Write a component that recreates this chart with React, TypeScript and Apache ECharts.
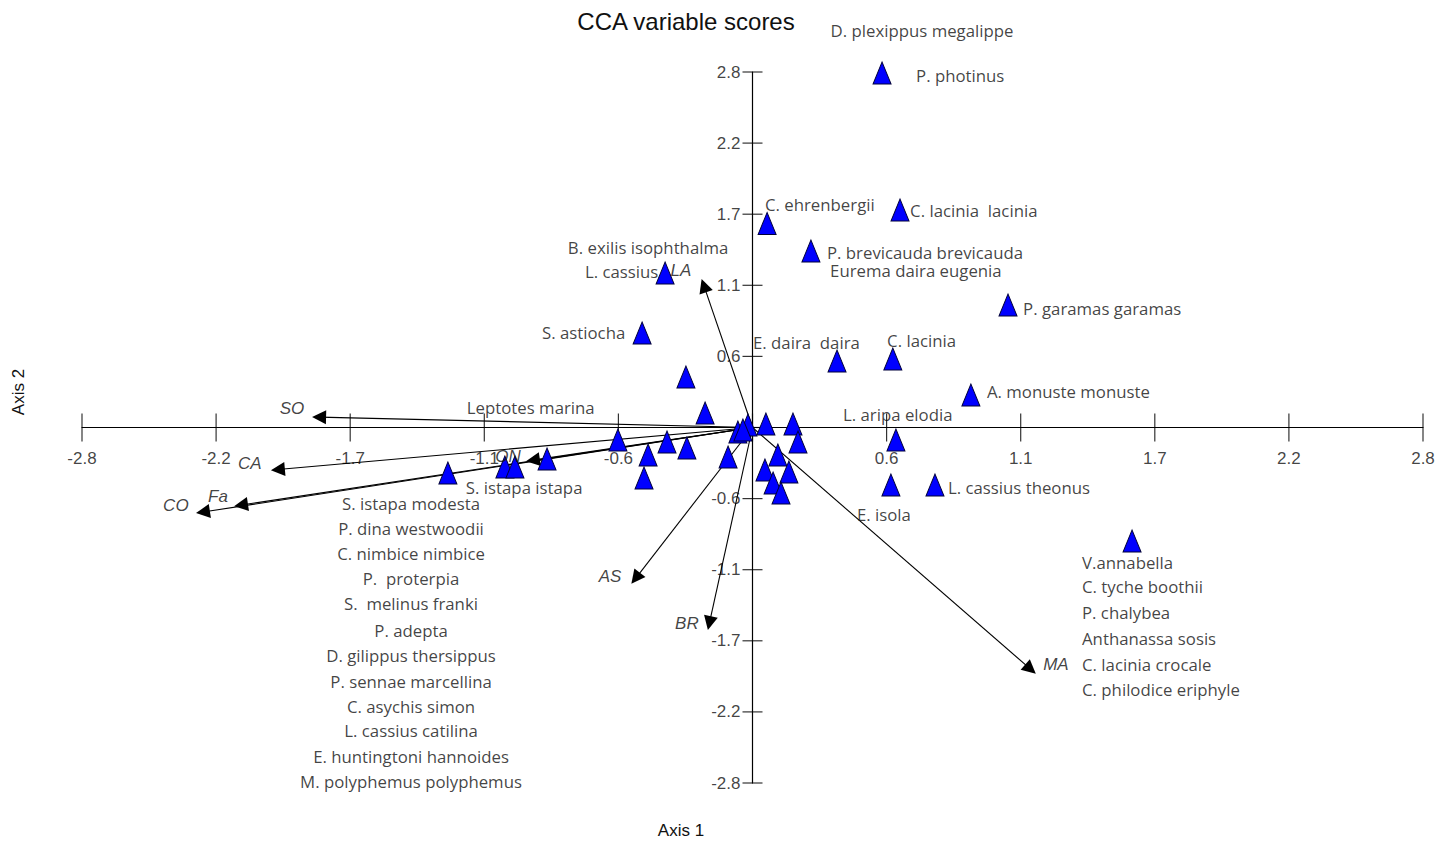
import React, { useEffect, useRef } from 'react';
import * as echarts from 'echarts';

// ---- Axis ----
const AXIS_MIN = -2.8;
const AXIS_MAX = 2.8;
const AXIS_INTERVAL = 0.56;
const TICK_VALUES = [-2.8, -2.24, -1.68, -1.12, -0.56, 0, 0.56, 1.12, 1.68, 2.24, 2.8];

// ---- Species (site) scores: blue triangles ----
const speciesScores: [number, number][] = [
  [0.541, 2.792], [0.616, 1.713], [0.061, 1.607], [0.244, 1.39], [-0.365, 1.217],
  [1.067, 0.965], [-0.461, 0.744], [0.353, 0.524], [0.586, 0.54], [0.912, 0.256],
  [-0.278, 0.398], [-0.198, 0.114], [0.599, -0.098], [0.578, -0.453], [0.762, -0.453],
  [1.585, -0.894], [-0.562, -0.098], [-0.357, -0.114], [-0.274, -0.161], [-0.436, -0.217],
  [-0.453, -0.398], [-0.858, -0.248], [-1.034, -0.311], [-0.992, -0.311], [-1.272, -0.358],
  [-0.102, -0.232], [-0.061, -0.035], [-0.019, 0.02], [0.056, 0.028], [0.169, 0.028],
  [0.19, -0.114], [0.106, -0.217], [0.052, -0.335], [0.152, -0.35], [0.086, -0.437],
  [0.119, -0.516], [-0.04, -0.02],
];

// ---- Species name annotations ----
const speciesNames = [
  'D. plexippus megalippe', 'P. photinus', 'C. ehrenbergii', 'C. lacinia  lacinia',
  'B. exilis isophthalma', 'P. brevicauda brevicauda', 'Eurema daira eugenia', 'L. cassius',
  'P. garamas garamas', 'S. astiocha', 'E. daira  daira', 'C. lacinia', 'A. monuste monuste',
  'Leptotes marina', 'L. aripa elodia', 'S. istapa istapa', 'L. cassius theonus', 'E. isola',
];
const speciesNamePos: [number, number][] = [
  [0.708, 3.123], [0.683, 2.769], [0.052, 1.76], [0.658, 1.713],
  [-0.436, 1.414], [0.311, 1.382], [0.324, 1.233], [-0.70, 1.225],
  [1.13, 0.941], [-0.879, 0.752], [0.002, 0.673], [0.562, 0.689], [0.979, 0.28],
  [-1.193, 0.154], [0.378, 0.106], [-1.197, -0.469], [0.816, -0.469], [0.436, -0.689],
];
// 'c' = centred on the point, 'l' = text starts at the point
const speciesNameAnchor = ['c', 'l', 'l', 'l', 'c', 'l', 'l', 'l', 'l', 'l', 'l', 'l', 'l', 'l', 'l', 'l', 'l', 'l'];

const leftListNames = [
  'S. istapa modesta', 'P. dina westwoodii', 'C. nimbice nimbice', 'P.  proterpia',
  'S.  melinus franki', 'P. adepta', 'D. gilippus thersippus', 'P. sennae marcellina',
  'C. asychis simon', 'L. cassius catilina', 'E. huntingtoni hannoides', 'M. polyphemus polyphemus',
];
const leftListX = -1.426;
const leftListY = [-0.595, -0.792, -0.989, -1.186, -1.39, -1.595, -1.792, -1.997, -2.194, -2.39, -2.595, -2.792];

const rightListNames = [
  'V.annabella', 'C. tyche boothii', 'P. chalybea', 'Anthanassa sosis', 'C. lacinia crocale', 'C. philodice eriphyle',
];
const rightListX = 1.376;
const rightListY = [-1.06, -1.256, -1.461, -1.658, -1.863, -2.06];

// ---- Environmental variable vectors ----
const envNames = ['SO', 'CA', 'Fa', 'CO', 'ON', 'LA', 'AS', 'BR', 'MA'];
const envEnds: [number, number][] = [
  [-1.81, 0.082], [-1.982, -0.331], [-2.136, -0.611], [-2.295, -0.666], [-0.917, -0.257],
  [-0.203, 1.117], [-0.488, -1.188], [-0.18, -1.541], [1.161, -1.903],
];
const envLabelPos: [number, number][] = [
  [-1.923, 0.146], [-2.099, -0.287], [-2.232, -0.547], [-2.408, -0.618], [-1.021, -0.232],
  [-0.299, 1.233], [-0.595, -1.17], [-0.274, -1.54], [1.267, -1.87],
];

const TEXT_COLOR = '#111';
const SPECIES_FONT = { fontFamily: 'Open Sans', fontSize: 16.8, color: TEXT_COLOR };
const TICK_FONT = { fontFamily: 'Liberation Sans', fontSize: 17, color: TEXT_COLOR };

const tickFormatter = (v: number) => (Math.abs(v) < 1e-9 ? '' : v.toFixed(1));

export default function App() {
  const ref = useRef<HTMLDivElement>(null);

  useEffect(() => {
    if (!ref.current) return;
    const chart = echarts.init(ref.current, undefined, { renderer: 'svg' });

    const axisBase = {
      type: 'value' as const,
      min: AXIS_MIN,
      max: AXIS_MAX,
      interval: AXIS_INTERVAL,
      splitLine: { show: false },
      axisTick: { show: false },
      axisLabel: { show: false },
      axisLine: { onZero: true, lineStyle: { color: '#000', width: 1.2 } },
    };

    const labelPoint = (value: [number, number], name: string, anchor: string) => ({
      value,
      name,
      label: anchor === 'c' ? { position: 'inside' } : { position: 'right', distance: 0 },
    });

    const speciesLabelData = [
      ...speciesNames.map((n, i) => labelPoint(speciesNamePos[i], n, speciesNameAnchor[i])),
      ...leftListNames.map((n, i) => labelPoint([leftListX, leftListY[i]], n, 'c')),
      ...rightListNames.map((n, i) => labelPoint([rightListX, rightListY[i]], n, 'l')),
    ];

    const tickSeriesBase = {
      type: 'scatter',
      xAxisIndex: 0,
      yAxisIndex: 0,
      symbol: 'rect',
      clip: false,
      silent: true,
      itemStyle: { color: '#000' },
      z: 2,
    };

    chart.setOption({
      animation: false,
      backgroundColor: '#fff',
      grid: { left: 82, right: 29, top: 72, bottom: 58, containLabel: false },
      xAxis: { ...axisBase },
      yAxis: { ...axisBase },
      graphic: [
        {
          type: 'text', x: 686, y: 21,
          style: { text: 'CCA variable scores', fontFamily: 'Liberation Sans', fontSize: 24, fill: TEXT_COLOR, align: 'center', verticalAlign: 'middle' },
        },
        {
          type: 'text', x: 681, y: 830,
          style: { text: 'Axis 1', fontFamily: 'Liberation Sans', fontSize: 17, fill: TEXT_COLOR, align: 'center', verticalAlign: 'middle' },
        },
        {
          type: 'text', x: 18, y: 392, rotation: Math.PI / 2,
          style: { text: 'Axis 2', fontFamily: 'Liberation Sans', fontSize: 17, fill: TEXT_COLOR, align: 'center', verticalAlign: 'middle' },
        },
      ],
      series: [
        // x-axis ticks (crossing the axis) and labels
        {
          ...tickSeriesBase,
          symbolSize: [1.2, 28],
          label: {
            show: true,
            position: 'bottom',
            distance: 8,
            formatter: (p: any) => tickFormatter(p.value[0]),
            ...TICK_FONT,
          },
          data: TICK_VALUES.map((v) => [v, 0]),
        },
        // y-axis ticks (crossing the axis) and labels
        {
          ...tickSeriesBase,
          symbolSize: [20, 1.2],
          label: {
            show: true,
            position: 'left',
            distance: 2,
            formatter: (p: any) => tickFormatter(p.value[1]),
            ...TICK_FONT,
          },
          data: TICK_VALUES.map((v) => [0, v]),
        },
        {
          type: 'lines',
          coordinateSystem: 'cartesian2d',
          xAxisIndex: 0,
          yAxisIndex: 0,
          symbol: ['none', 'triangle'],
          symbolSize: [8, 14],
          lineStyle: { color: '#000', width: 1.1, opacity: 1 },
          data: envEnds.map((e, i) => ({ name: envNames[i], coords: [[0, 0], e] })),
          z: 3,
        },
        {
          type: 'scatter',
          xAxisIndex: 0,
          yAxisIndex: 0,
          symbol: 'triangle',
          symbolSize: [18, 22],
          itemStyle: { color: '#0000ff', borderColor: '#00003a', borderWidth: 1, opacity: 1 },
          data: speciesScores,
          clip: false,
          z: 4,
        },
        {
          type: 'scatter',
          xAxisIndex: 0,
          yAxisIndex: 0,
          symbolSize: 0,
          clip: false,
          silent: true,
          label: {
            show: true,
            formatter: '{b}',
            fontFamily: 'Liberation Sans',
            fontStyle: 'italic',
            fontSize: 17,
            color: TEXT_COLOR,
            position: 'inside',
          },
          data: envLabelPos.map((p, i) => ({ value: p, name: envNames[i] })),
          z: 5,
        },
        {
          type: 'scatter',
          xAxisIndex: 0,
          yAxisIndex: 0,
          symbolSize: 0,
          clip: false,
          silent: true,
          label: { show: true, formatter: '{b}', ...SPECIES_FONT },
          data: speciesLabelData,
          z: 5,
        },
      ],
    });

    return () => chart.dispose();
  }, []);

  return (
    <div
      ref={ref}
      style={{ position: 'absolute', left: 0, top: 0, width: 1452, height: 841, background: '#fff' }}
    />
  );
}
